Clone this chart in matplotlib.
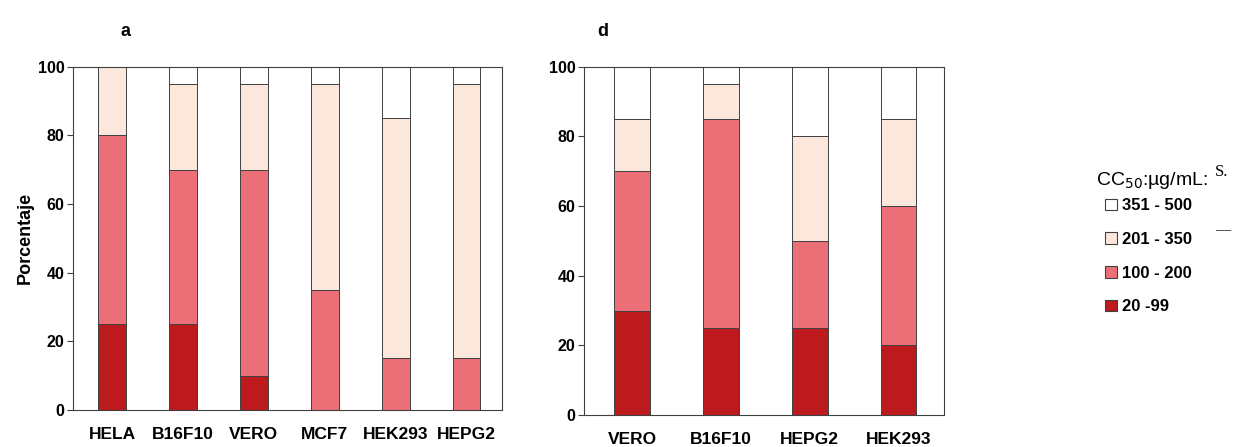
import numpy as np
import matplotlib.pyplot as plt
from matplotlib.patches import Patch

plt.rcParams['font.family'] = ['Liberation Sans', 'DejaVu Sans']

# Panel a
cells_a = ["HELA", "B16F10", "VERO", "MCF7", "HEK293", "HEPG2"]
a_20_99 = [25, 25, 10, 0, 0, 0]
a_100_200 = [55, 45, 60, 35, 15, 15]
a_201_350 = [20, 25, 25, 60, 70, 80]
a_351_500 = [0, 5, 5, 5, 15, 5]

# Panel d
cells_d = ["VERO", "B16F10", "HEPG2", "HEK293"]
d_20_99 = [30, 25, 25, 20]
d_100_200 = [40, 60, 25, 40]
d_201_350 = [15, 10, 30, 25]
d_351_500 = [15, 5, 20, 15]

ranges = ["20 -99", "100 - 200", "201 - 350", "351 - 500"]
colors = ["#BC1A1C", "#EC6F78", "#FCE7DD", "#FFFFFF"]
edge = "#404040"


def stacked(ax, cells, series, width):
    x = np.arange(len(cells))
    bottom = np.zeros(len(cells))
    for vals, col in zip(series, colors):
        ax.bar(x, vals, width, bottom=bottom, color=col, edgecolor=edge, linewidth=0.7)
        bottom += np.array(vals)
    ax.set_xticks(x)
    ax.set_xticklabels(cells, fontsize=12.5, fontweight="bold")
    ax.tick_params(axis="x", length=0, pad=12)
    ax.tick_params(axis="y", labelsize=11.5, length=4, width=0.8, color=edge, pad=2)
    for lab in ax.get_yticklabels():
        lab.set_fontweight("bold")
    ax.set_ylim(0, 100)
    ax.set_yticks([0, 20, 40, 60, 80, 100])
    for sp in ax.spines.values():
        sp.set_color(edge)
        sp.set_linewidth(0.8)


fig = plt.figure(figsize=(12.33, 4.47), dpi=100)

ax1 = fig.add_axes([0.0592, 0.0828, 0.348, 0.768])
stacked(ax1, cells_a, [a_20_99, a_100_200, a_201_350, a_351_500], 0.39)
ax1.set_xlim(-0.55, 5.5)
ax1.set_ylabel("Porcentaje", fontsize=13, fontweight="bold", labelpad=3)

ax2 = fig.add_axes([0.4736, 0.0716, 0.292, 0.779])
stacked(ax2, cells_d, [d_20_99, d_100_200, d_201_350, d_351_500], 0.40)
ax2.set_xlim(-0.54, 3.51)

fig.text(0.098, 0.93, "a", fontsize=13, fontweight="bold", va="center")
fig.text(0.484, 0.93, "d", fontsize=13, fontweight="bold", va="center")

handles = [Patch(facecolor=c, edgecolor=edge, linewidth=0.8) for c in colors][::-1]
leg = fig.legend(handles, ranges[::-1], loc="upper left", bbox_to_anchor=(0.884, 0.59),
                 frameon=False, handlelength=0.7, handleheight=0.7, handletextpad=0.3,
                 labelspacing=1.12, prop={"size": 12, "weight": "bold"})
fig.text(0.889, 0.597, "CC$_{50}$:µg/mL:", fontsize=14, va="center", ha="left")
fig.text(0.985, 0.615, "S.", fontsize=12, family="Liberation Serif", va="center", ha="left")
fig.text(0.986, 0.485, "—", fontsize=11, va="center", ha="left", color="#555555")

fig.savefig("out.png", dpi=100)
